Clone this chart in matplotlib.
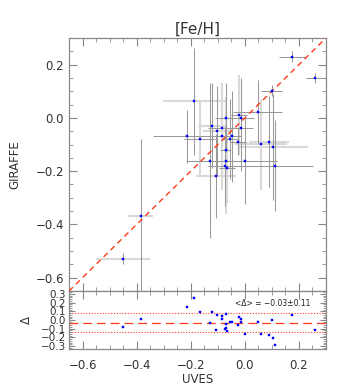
import numpy as np
import matplotlib
matplotlib.use("Agg")
import matplotlib.pyplot as plt
from matplotlib.ticker import MultipleLocator

# UVES vs GIRAFFE [Fe/H]
uves = [0.175, 0.26, 0.099, -0.189, 0.047, -0.022, -0.069, -0.015,
        -0.12, -0.086, -0.015, -0.103, -0.214, -0.085, -0.046, -0.056,
        -0.167, -0.026, 0.06, 0.088, 0.104, -0.071, -0.129, -0.069,
        -0.001, -0.075, 0.112, -0.065, -0.106, -0.385, -0.449]
giraffe = [0.23, 0.15, 0.102, 0.062, 0.021, 0.011, 0.001, 0.0,
           -0.029, -0.039, -0.039, -0.049, -0.069, -0.069, -0.069, -0.079,
           -0.079, -0.089, -0.099, -0.089, -0.109, -0.12, -0.16, -0.16,
           -0.16, -0.179, -0.179, -0.189, -0.219, -0.37, -0.528]
uves_err = [0.05, 0.035, 0.04, 0.115, 0.09, 0.03, 0.04, 0.05,
            0.055, 0.05, 0.045, 0.05, 0.125, 0.04, 0.03, 0.03,
            0.057, 0.03, 0.095, 0.074, 0.13, 0.02, 0.09, 0.04,
            0.12, 0.06, 0.14, 0.03, 0.074, 0.046, 0.1]
giraffe_err = [0.02, 0.02, 0.02, 0.2, 0.12, 0.15, 0.13, 0.15,
               0.16, 0.17, 0.16, 0.17, 0.1, 0.2, 0.17, 0.15,
               0.14, 0.05, 0.17, 0.17, 0.2, 0.2, 0.29, 0.2,
               0.165, 0.15, 0.17, 0.13, 0.157, 0.29, 0.02]
# 0 = dark thin bar, 1 = light thick bar
xbar_light = [0, 0, 0, 1, 0, 0, 0, 0,
              1, 0, 0, 1, 0, 0, 0, 0,
              0, 0, 1, 1, 1, 0, 0, 0,
              0, 0, 0, 0, 1, 1, 1]
ybar_light = [0, 0, 0, 0, 0, 1, 0, 0,
              0, 1, 0, 0, 0, 1, 0, 0,
              1, 0, 1, 0, 0, 1, 0, 1,
              0, 0, 0, 1, 0, 0, 0]

mean_delta = -0.03
std_delta = 0.11
title = "[Fe/H]"
xlabel = "UVES"
ylabel = "GIRAFFE"
lims = (-0.65, 0.3)

uves = np.array(uves); giraffe = np.array(giraffe)
delta = giraffe - uves

W, H = 343, 389
fig = plt.figure(figsize=(W / 100, H / 100), dpi=100)
L, R = 69 / W, 326 / W
ax = fig.add_axes([L, 1 - 291 / H, R - L, (291 - 38) / H])
axr = fig.add_axes([L, 1 - 349 / H, R - L, (349 - 291) / H], sharex=ax)

dark = '#999999'
light = '#d9d9d9'
for i in range(len(uves)):
    cx = light if xbar_light[i] else dark
    cy = light if ybar_light[i] else dark
    lwx = 1.5 if xbar_light[i] else 0.75
    lwy = 1.5 if ybar_light[i] else 0.75
    ax.errorbar(uves[i], giraffe[i], xerr=uves_err[i], fmt='none',
                ecolor=cx, elinewidth=lwx, capsize=0, zorder=1 - 0.5 * xbar_light[i])
    ax.errorbar(uves[i], giraffe[i], yerr=giraffe_err[i], fmt='none',
                ecolor=cy, elinewidth=lwy, capsize=0, zorder=1 - 0.5 * ybar_light[i])

ax.plot(lims, lims, color='#ff3a1a', lw=1.0, ls=(0, (4, 3)), zorder=3)
ax.plot(uves, giraffe, 's', color='blue', ms=1.9, mec='blue', mew=0.3, zorder=4)

ax.set_xlim(lims)
ax.set_ylim(lims)

axr.plot(uves, delta, 's', color='blue', ms=1.9, mew=0.3, zorder=4)
axr.axhline(mean_delta, color='#ff3a1a', lw=0.9, ls=(0, (7, 4)))
axr.axhline(mean_delta + std_delta, color='#ff3a1a', lw=0.8, ls=(0, (1, 1.5)))
axr.axhline(mean_delta - std_delta, color='#ff3a1a', lw=0.8, ls=(0, (1, 1.5)))
axr.set_ylim(-0.335, 0.335)
axr.text(0.94, 0.78, "<Δ> = −0.03±0.11", transform=axr.transAxes,
         ha='right', va='center', fontsize=5.5, color='#222222')

textc = '#333333'
for a in (ax, axr):
    for s in a.spines.values():
        s.set_color('#888888')
        s.set_linewidth(0.9)
    a.tick_params(which='both', direction='in', top=True, right=True,
                  colors='#888888', labelcolor=textc, labelsize=8.5)
    a.tick_params(which='major', length=6, width=0.8)
    a.tick_params(which='minor', length=3, width=0.6)

ax.xaxis.set_major_locator(MultipleLocator(0.2))
ax.xaxis.set_minor_locator(MultipleLocator(0.05))
ax.yaxis.set_major_locator(MultipleLocator(0.2))
ax.yaxis.set_minor_locator(MultipleLocator(0.05))
ax.tick_params(labelbottom=False)
axr.yaxis.set_major_locator(MultipleLocator(0.1))
axr.yaxis.set_minor_locator(MultipleLocator(0.02))
axr.tick_params(axis='y', which='major', length=4, labelsize=7.5, pad=2)
axr.tick_params(axis='y', which='minor', length=2)
axr.tick_params(axis='x', pad=7)

ax.set_title(title, fontsize=11, color=textc, pad=3)
ax.set_ylabel(ylabel, fontsize=8.5, color=textc, labelpad=10)
axr.set_ylabel("Δ", fontsize=8.5, color=textc, labelpad=6)
axr.set_xlabel(xlabel, fontsize=8.5, color=textc, labelpad=1)

fig.savefig("out.png", dpi=100)
